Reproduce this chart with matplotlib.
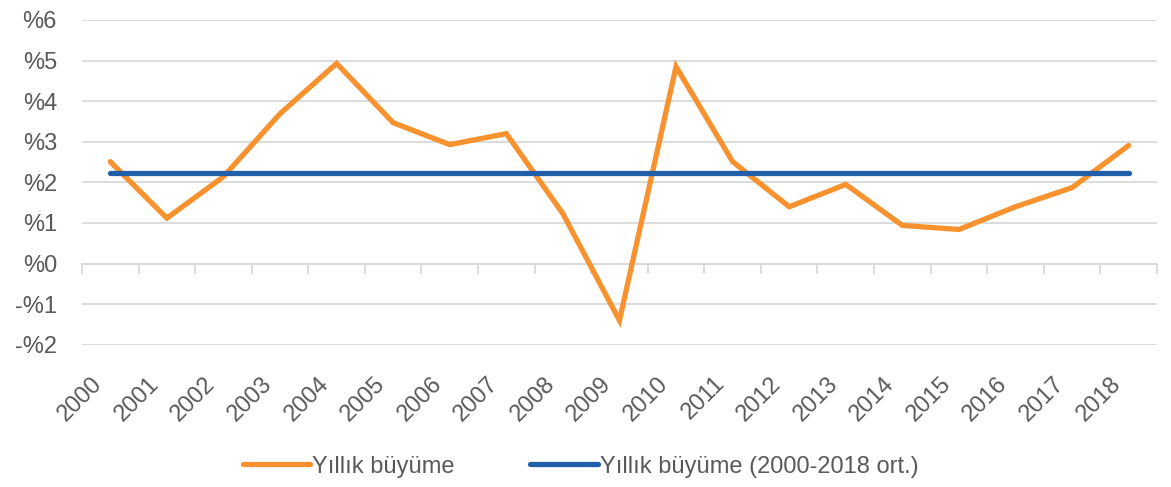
import numpy as np
import matplotlib
matplotlib.use("Agg")
import matplotlib.pyplot as plt
from matplotlib.transforms import ScaledTranslation

years = [str(y) for y in range(2000, 2019)]
annual_growth = [2.51, 1.12, 2.14, 3.69, 4.93, 3.47, 2.93, 3.20, 1.23, -1.40,
                 4.85, 2.51, 1.40, 1.95, 0.94, 0.84, 1.40, 1.87, 2.91]
avg_growth = [2.22] * len(years)
y_ticks = [-2, -1, 0, 1, 2, 3, 4, 5, 6]
y_labels = ["-%2", "-%1", "%0", "%1", "%2", "%3", "%4", "%5", "%6"]

plt.rcParams["font.family"] = ["Liberation Sans", "DejaVu Sans"]
text_color = "#595959"
grid_color = "#d9d9d9"
fs = 17

fig = plt.figure(figsize=(11.71, 4.87), dpi=100)
ax = fig.add_axes([0.070, 0.292, 0.918, 0.667])

x = np.arange(len(years))
ax.plot(x, annual_growth, color="#F7922F", lw=3.8, solid_capstyle="round",
        solid_joinstyle="miter", label="Yıllık büyüme", zorder=3)
ax.plot(x, avg_growth, color="#215FAB", lw=3.8, solid_capstyle="round",
        label="Yıllık büyüme (2000-2018 ort.)", zorder=4)

ax.set_xlim(-0.5, len(years) - 0.5)
ax.set_ylim(-2, 6)
ax.set_yticks(y_ticks)
ax.set_yticklabels(y_labels)
ax.yaxis.grid(True, color=grid_color, lw=1.3)
ax.set_axisbelow(True)
ax.tick_params(axis="y", length=0, pad=18, labelsize=fs, labelcolor=text_color)

ax.set_xticks(x)
ax.set_xticklabels(years, rotation=45, ha="right", rotation_mode="anchor")
ax.tick_params(axis="x", length=0, pad=20, labelsize=fs, labelcolor=text_color)
shift = ScaledTranslation(-0.19, 0, fig.dpi_scale_trans)
for lab in ax.get_xticklabels():
    lab.set_transform(lab.get_transform() + shift)

for s in ax.spines.values():
    s.set_visible(False)

# category axis line with boundary ticks at y = 0
sec = ax.secondary_xaxis(0.25)
sec.set_xticks(np.arange(-0.5, len(years), 1.0))
sec.set_xticklabels([])
sec.tick_params(axis="x", length=7, width=1.3, color=grid_color, direction="out")
sec.spines["bottom"].set_color(grid_color)
sec.spines["bottom"].set_linewidth(1.3)

leg = ax.legend(loc="center", bbox_to_anchor=(0.464, -0.375), ncol=2,
                frameon=False, fontsize=fs, handlelength=2.85,
                handletextpad=0.1, columnspacing=3.2)
for t in leg.get_texts():
    t.set_color(text_color)

fig.savefig("out.png", dpi=100)
